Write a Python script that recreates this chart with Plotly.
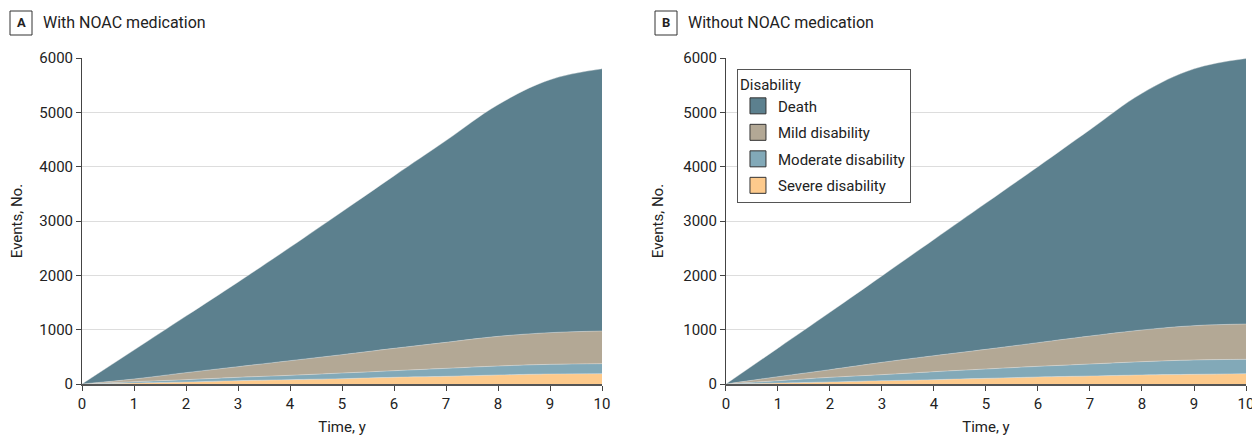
import plotly.graph_objects as go
from plotly.subplots import make_subplots

years = [0, 1, 2, 3, 4, 5, 6, 7, 8, 9, 10]

# Panel A: With NOAC medication (events per layer)
a_severe = [0, 18, 37, 61, 80, 98, 123, 141, 166, 184, 190]
a_moderate = [0, 25, 43, 62, 80, 104, 122, 147, 165, 178, 184]
a_mild = [0, 49, 129, 196, 269, 338, 411, 479, 546, 583, 601]
a_death = [0, 533, 1041, 1556, 2086, 2630, 3174, 3713, 4263, 4655, 4825]

# Panel B: Without NOAC medication
b_severe = [0, 18, 37, 61, 80, 104, 129, 147, 166, 178, 190]
b_moderate = [0, 43, 86, 111, 147, 172, 196, 221, 245, 264, 264]
b_mild = [0, 74, 141, 227, 294, 362, 436, 515, 583, 632, 650]
b_death = [0, 525, 1056, 1591, 2139, 2692, 3239, 3797, 4356, 4726, 4886]

names = ["Severe disability", "Moderate disability", "Mild disability", "Death"]
colors = ["#FDCA8C", "#82A9B8", "#B3A895", "#5C808E"]
y_ticks = [0, 1000, 2000, 3000, 4000, 5000, 6000]

FONT = "Roboto, 'Noto Sans', sans-serif"

fig = make_subplots(rows=1, cols=2, horizontal_spacing=0.1065)

panels = [
    (1, [a_severe, a_moderate, a_mild, a_death]),
    (2, [b_severe, b_moderate, b_mild, b_death]),
]
for col, layers in panels:
    for name, color, vals in zip(names, colors, layers):
        fig.add_trace(
            go.Scatter(
                x=years, y=vals, name=name, stackgroup=f"s{col}",
                mode="lines",
                line=dict(width=0.7, color="rgba(235,235,235,0.55)", shape="spline", smoothing=1.1),
                fillcolor=color, showlegend=False, hoverinfo="x+y+name",
            ),
            row=1, col=col,
        )

# legend entries (square swatches), top to bottom as in the reference
for name, color in reversed(list(zip(names, colors))):
    fig.add_trace(
        go.Scatter(
            x=[None], y=[None], mode="markers", name=name, legendgroup=name,
            marker=dict(symbol="square", size=17, color=color, line=dict(color="#333", width=1)),
            showlegend=True,
        ),
        row=1, col=2,
    )

fig.update_layout(
    width=1260, height=428,
    margin=dict(l=74, r=22, t=50, b=52),
    paper_bgcolor="white", plot_bgcolor="white",
    font=dict(family=FONT, size=15, color="#222"),
    legend=dict(
        title=dict(text="Disability", font=dict(size=15)),
        x=0.5627, y=0.966, xanchor="left", yanchor="top",
        bordercolor="#555", borderwidth=1, bgcolor="white",
        traceorder="grouped", tracegroupgap=4,
        itemsizing="trace",
        font=dict(size=15),
    ),
)

for col in (1, 2):
    fig.update_xaxes(
        range=[0, 10], tickvals=years, showgrid=False, zeroline=False,
        showline=True, linecolor="#555", linewidth=1.5,
        ticks="outside", ticklen=5, tickcolor="#444", automargin=False,
        title=dict(text="Time, y", font=dict(size=15)),
        row=1, col=col,
    )
    fig.update_yaxes(
        range=[0, 6000], tickvals=y_ticks,
        showgrid=True, gridcolor="#DDDDDD", gridwidth=1, zeroline=False,
        showline=True, linecolor="#444", linewidth=1,
        ticks="outside", ticklen=5, tickcolor="#444", automargin=False,
        title=dict(text="Events, No.", font=dict(size=15)),
        row=1, col=col,
    )


def px_x(px):
    return (px - 82) / 1164


def px_y(py):
    return (384 - py) / 326


panel_titles = [("A", "With NOAC medication", 10, 32), ("B", "Without NOAC medication", 655, 677)]
for letter, text, x0, x1 in panel_titles:
    fig.add_shape(type="rect", xref="paper", yref="paper",
                  x0=px_x(x0), x1=px_x(x1), y0=px_y(35), y1=px_y(11),
                  line=dict(color="#333", width=1), fillcolor="white")
    fig.add_annotation(xref="paper", yref="paper", x=px_x((x0 + x1) / 2), y=px_y(23),
                       text=f"<b>{letter}</b>", showarrow=False, xanchor="center", yanchor="middle",
                       font=dict(size=13, color="#222"))
    fig.add_annotation(xref="paper", yref="paper", x=px_x(x1 + 9), y=px_y(23),
                       text=text, showarrow=False, xanchor="left", yanchor="middle",
                       font=dict(size=16, color="#222"))

fig.write_html("out.html")
